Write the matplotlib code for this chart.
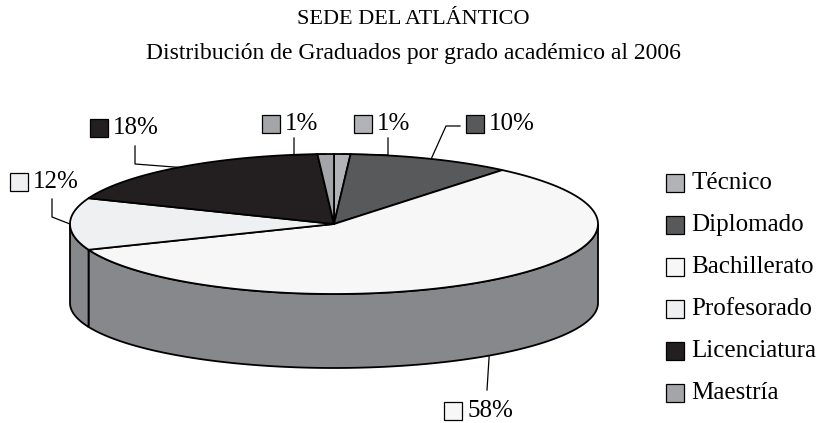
import numpy as np
import matplotlib.pyplot as plt
from matplotlib.patches import Polygon, Rectangle

plt.rcParams['font.family'] = ['Liberation Serif', 'DejaVu Serif']

# datos
categorias = ['Técnico', 'Diplomado', 'Bachillerato', 'Profesorado', 'Licenciatura', 'Maestría']
valores = [1, 10, 58, 12, 18, 1]
colores = ['#b2b3b6', '#58595b', '#f7f7f7', '#eff0f2', '#231f20', '#a3a5a8']
color_lado = '#87888b'

titulo = 'SEDE DEL ATLÁNTICO'
subtitulo = 'Distribución de Graduados por grado académico al 2006'

# geometria del pastel 3D (en pixeles)
cx, cy = 334, 224
rx, ry = 264, 70
cyb, ryb = 303, 65

fig = plt.figure(figsize=(8.22, 4.23), dpi=100)
ax = fig.add_axes([0, 0, 1, 1])
ax.set_xlim(0, 822)
ax.set_ylim(423, 0)
ax.axis('off')

total = float(sum(valores))
frac = np.cumsum([0] + valores) / total
ang_ini = 90 - 360 * frac[:-1]
ang_fin = 90 - 360 * frac[1:]


def top(t):
    t = np.radians(t)
    return np.column_stack([cx + rx * np.cos(t), cy - ry * np.sin(t)])


def bottom(t):
    t = np.radians(t)
    return np.column_stack([cx + rx * np.cos(t), cyb - ryb * np.sin(t)])


# lados (solo la mitad frontal)
for a1, a2 in zip(ang_ini, ang_fin):
    lo, hi = max(a2, -180), min(a1, 0)
    if lo < hi:
        t = np.linspace(lo, hi, 120)
        pts = np.vstack([top(t), bottom(t)[::-1]])
        ax.add_patch(Polygon(pts, closed=True, fc=color_lado, ec='black', lw=1.3, zorder=2))

# cara superior
for a1, a2, c in zip(ang_ini, ang_fin, colores):
    t = np.linspace(a1, a2, 200)
    pts = np.vstack([[cx, cy], top(t)])
    ax.add_patch(Polygon(pts, closed=True, fc=c, ec='black', lw=1.3, zorder=3))

# etiquetas de porcentaje: (caja x, caja y, codo)
etiq = [
    (354, 124, [(388, 138), (388, 155)]),
    (466, 124, [(460, 126), (446, 126)]),
    (444, 411, [(487, 390)]),
    (10, 182, [(52, 199), (52, 217)]),
    (90, 128, [(135, 146), (135, 164)]),
    (262, 124, [(294, 138), (294, 155)]),
]
mid = (ang_ini + ang_fin) / 2
for i, (bx, by, codo) in enumerate(etiq):
    if -180 < mid[i] < 0:
        anc = bottom([mid[i]])[0]
    else:
        anc = top([mid[i]])[0]
    xs = [p[0] for p in codo] + [anc[0]]
    ys = [p[1] for p in codo] + [anc[1]]
    ax.plot(xs, ys, color='black', lw=0.9, zorder=4)
    ax.add_patch(Rectangle((bx, by - 9), 18, 18, fc=colores[i], ec='black', lw=0.9, zorder=5))
    ax.text(bx + 23, by, f'{valores[i]}%', fontsize=18, va='center', ha='left', zorder=5)

# leyenda
for i, cat in enumerate(categorias):
    y = 183 + 42 * i
    ax.add_patch(Rectangle((666, y - 9), 18, 18, fc=colores[i], ec='black', lw=0.9))
    ax.text(691, y, cat, fontsize=18, va='center', ha='left')

ax.text(413, 20, titulo, fontsize=16, ha='center', va='center')
ax.text(413, 54, subtitulo, fontsize=17, ha='center', va='center')

fig.savefig('out.png', dpi=100)
